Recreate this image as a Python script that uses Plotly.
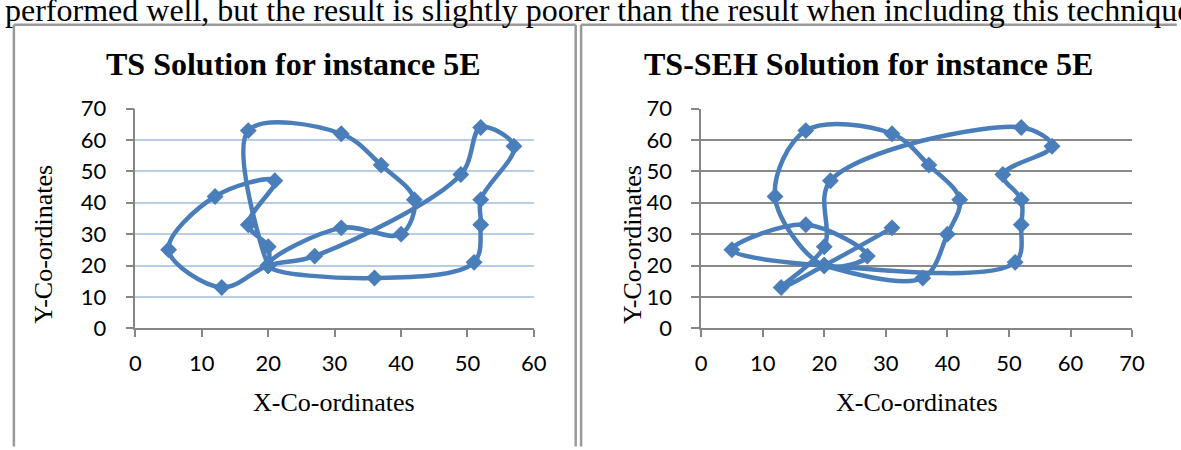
import plotly.graph_objects as go

W, H = 1181, 450  # reference picture size (layout designed in these pixel units)

# ---- data: route order as plotted (depot at 20,20) ----
ts_x = [20, 17, 31, 37, 42, 40, 31, 20, 36, 51, 52, 52, 57, 52, 49, 27, 20, 13, 5, 12, 21, 17, 20, 20]
ts_y = [20, 63, 62, 52, 41, 30, 32, 20, 16, 21, 33, 41, 58, 64, 49, 23, 20, 13, 25, 42, 47, 33, 26, 20]

seh_x = [31, 20, 13, 20, 21, 52, 57, 49, 52, 52, 51, 20, 5, 17, 27, 20, 12, 17, 31, 37, 42, 40, 36, 20]
seh_y = [32, 20, 13, 26, 47, 64, 58, 49, 41, 33, 21, 20, 25, 33, 23, 20, 42, 63, 62, 52, 41, 30, 16, 20]

left_title = "TS Solution for instance 5E"
right_title = "TS-SEH Solution for instance 5E"
x_title = "X-Co-ordinates"
y_title = "Y-Co-ordinates"
body_text = "performed well, but the result is slightly poorer than the result when including this technique"

left_xrange = [0, 60]
right_xrange = [0, 70]
yrange = [0, 70]

BLUE = "#4a7ebb"
AXIS = "#868686"


def px(x):
    return x / W


def py(y):
    return 1 - y / H


fig = go.Figure()
fig.add_trace(go.Scatter(
    x=ts_x, y=ts_y, mode="lines+markers", xaxis="x", yaxis="y",
    line=dict(shape="spline", smoothing=1, color=BLUE, width=4.5),
    marker=dict(symbol="diamond", size=13, color=BLUE),
    showlegend=False, hoverinfo="skip"))
fig.add_trace(go.Scatter(
    x=seh_x, y=seh_y, mode="lines+markers", xaxis="x2", yaxis="y2",
    line=dict(shape="spline", smoothing=1, color=BLUE, width=4.5),
    marker=dict(symbol="diamond", size=13, color=BLUE),
    showlegend=False, hoverinfo="skip"))

tickfont = dict(family="Lato", size=22, color="black")
ydom = [py(334.3), py(100.7)]

common_x = dict(dtick=10, showgrid=False, zeroline=False, showline=True,
                linecolor=AXIS, linewidth=1.5, ticks="outside", ticklen=7,
                tickcolor=AXIS, tickwidth=1.5, tickfont=tickfont, fixedrange=True,
                ticklabelstandoff=8)
common_y = dict(dtick=10, zeroline=False, showline=True, showgrid=True, gridwidth=1.5,
                linecolor=AXIS, linewidth=1.5, ticks="outside", ticklen=8,
                tickcolor=AXIS, tickwidth=1.5, tickfont=tickfont, fixedrange=True,
                ticklabelstandoff=15)

fig.update_layout(
    autosize=True,
    margin=dict(l=0, r=0, t=0, b=0, pad=0),
    paper_bgcolor="white", plot_bgcolor="white",
    xaxis=dict(domain=[px(131.5), px(536.5)], range=left_xrange, anchor="y", **common_x),
    yaxis=dict(domain=ydom, range=yrange, anchor="x", gridcolor="#b9cde5", **common_y),
    xaxis2=dict(domain=[px(706.5), px(1144.5)], range=right_xrange, anchor="y2", **common_x),
    yaxis2=dict(domain=ydom, range=yrange, anchor="x2", gridcolor="#898989", **common_y),
)

anns = []
serif = "Liberation Serif"
anns.append(dict(text=body_text, x=px(-3), y=py(-26), xref="paper", yref="paper",
                 xanchor="left", yanchor="top", showarrow=False,
                 font=dict(family=serif, size=32, color="black")))
anns.append(dict(text="<b>" + left_title + "</b>", x=px(292.5), y=py(53), xref="paper", yref="paper",
                 xanchor="center", yanchor="middle", showarrow=False,
                 font=dict(family=serif, size=32, color="black")))
anns.append(dict(text="<b>" + right_title + "</b>", x=px(877), y=py(53), xref="paper", yref="paper",
                 xanchor="center", yanchor="middle", showarrow=False,
                 font=dict(family=serif, size=32, color="black")))
for cx in (333.5, 925.7):
    anns.append(dict(text=x_title, x=px(cx), y=py(413), xref="paper", yref="paper",
                     xanchor="center", yanchor="middle", showarrow=False,
                     font=dict(family=serif, size=26, color="black")))
for cx in (38, 637):
    anns.append(dict(text=y_title, x=px(cx), y=py(245), xref="paper", yref="paper",
                     xanchor="center", yanchor="middle", showarrow=False, textangle=-90,
                     font=dict(family=serif, size=26, color="black")))
fig.update_layout(annotations=anns)

BORDER = "#9a9a9a"
shapes = []
def seg(x0, y0, x1, y1):
    shapes.append(dict(type="line", xref="paper", yref="paper",
                       x0=px(x0), y0=py(y0), x1=px(x1), y1=py(y1),
                       line=dict(color=BORDER, width=2.5)))
seg(8, 11.5, 8, 460)
seg(8, 11.5, 579, 11.5)
seg(579, 11.5, 579, 460)
seg(584.5, 11.5, 584.5, 460)
seg(584.5, 11.5, 1190, 11.5)
fig.update_layout(shapes=shapes)

post = ("document.documentElement.style.margin='0';document.documentElement.style.overflow='hidden';"
        "document.body.style.margin='0';document.body.style.overflow='hidden';"
        "Plotly.Plots.resize(document.getElementById('{plot_id}'));")
fig.write_html("out.html", config={"displayModeBar": False, "responsive": True},
               default_width="100vw", default_height="100vh", post_script=post)
